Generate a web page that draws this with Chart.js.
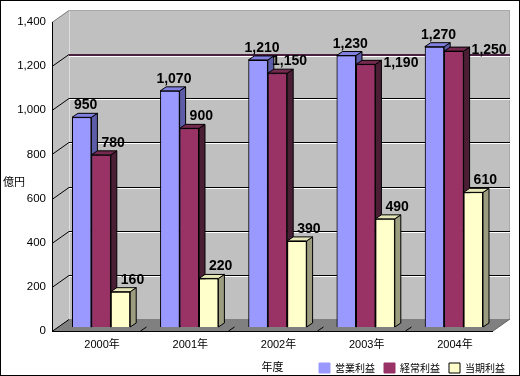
<!DOCTYPE html>
<html>
<head>
<meta charset="utf-8">
<script src="https://cdn.jsdelivr.net/npm/chart.js@4/dist/chart.umd.min.js"></script>
<style>
  html, body { margin: 0; padding: 0; background: #fff; }
</style>
</head>
<body>
<canvas id="chart" width="520" height="376"></canvas>
<script>
const categories = ["2000年", "2001年", "2002年", "2003年", "2004年"]
const seriesNames = ["営業利益", "経常利益", "当期利益"]
const operatingProfit = [950, 1070, 1210, 1230, 1270]
const ordinaryProfit = [780, 900, 1150, 1190, 1250]
const netProfit = [160, 220, 390, 490, 610]
const yTicks = [0, 200, 400, 600, 800, 1000, 1200, 1400]

const FONT = "'Liberation Sans', 'Noto Sans CJK JP', sans-serif"
const JP = "'Noto Sans CJK JP', sans-serif"

// 3d look: wall depth, bar row offset, bar depth
const DX = 17, DY = -12
const BX = 5, BY = -4
const SX = 6, SY = -4
const faces = [
  { side: "#5c5ca8", top: "#8080e0" },
  { side: "#4a1f36", top: "#74294f" },
  { side: "#9c9c80", top: "#e6e6b8" },
]
const labelShift = [4, 12, 12]

function poly(ctx, pts) {
  ctx.beginPath()
  pts.forEach((p, i) => (i ? ctx.lineTo(p[0], p[1]) : ctx.moveTo(p[0], p[1])))
  ctx.closePath()
}
function line(ctx, x1, y1, x2, y2, color, w) {
  ctx.strokeStyle = color
  ctx.lineWidth = w || 1
  ctx.beginPath()
  ctx.moveTo(x1, y1)
  ctx.lineTo(x2, y2)
  ctx.stroke()
}
const hits = (a, b) => a.l < b.r && b.l < a.r && a.t < b.b && b.t < a.b

const box3d = {
  id: "box3d",
  beforeDatasetsDraw(chart) {
    const { ctx, chartArea: a, scales: { x, y } } = chart
    const L = a.left, R = a.right, T = a.top, B = a.bottom
    ctx.save()
    ctx.fillStyle = "#c0c0c0"
    poly(ctx, [[L, T], [L + DX, T + DY], [L + DX, B + DY], [L, B]])
    ctx.fill()
    ctx.fillRect(L + DX, T + DY, R - L, B - T)
    ctx.fillStyle = "#808080"
    poly(ctx, [[L, B], [L + DX, B + DY], [R + DX, B + DY], [R, B]])
    ctx.fill()
    // wall edges
    line(ctx, L + DX + 0.5, T + DY, L + DX + 0.5, B + DY, "#dcdcdc")
    line(ctx, L + DX, T + DY + 0.5, R + DX, T + DY + 0.5, "#a8a8a8")
    line(ctx, R + DX - 0.5, T + DY, R + DX - 0.5, B + DY, "#a8a8a8")
    yTicks.forEach(v => {
      const py = Math.round(y.getPixelForValue(v))
      line(ctx, L, py + 0.5, L + DX, py + DY + 0.5, v === 1400 ? "#808080" : "#000")
      if (v === 0 || v === 1400) return
      const by = py + DY
      if (v === 1200) {
        line(ctx, L + DX, by + 1, R + DX, by + 1, "#4c2040", 2)
        line(ctx, L + DX, by + 2.5, R + DX, by + 2.5, "#fff")
      } else {
        line(ctx, L + DX, by + 0.5, R + DX, by + 0.5, "#000")
        line(ctx, L + DX, by + 1.5, R + DX, by + 1.5, "#fff")
      }
    })
    // floor ticks between categories
    for (let i = 1; i < categories.length; i++) {
      const px = Math.round((x.getPixelForValue(i - 1) + x.getPixelForValue(i)) / 2) + 0.5
      line(ctx, px, B, px + 6, B - 4, "#000")
    }
    line(ctx, R, B, R + DX, B + DY, "#606060")
    line(ctx, L + 0.5, T, L + 0.5, B + 1, "#000")
    line(ctx, L, B + 0.5, R, B + 0.5, "#000")
    ctx.restore()
    ctx.save()
    ctx.translate(BX, BY)
  },
  afterDatasetsDraw(chart) {
    const ctx = chart.ctx
    ctx.lineWidth = 1
    ctx.strokeStyle = "#000"
    chart.data.datasets.forEach((ds, i) => {
      chart.getDatasetMeta(i).data.forEach(bar => {
        bar.draw(ctx)
        const { x, y, base, width } = bar.getProps(["x", "y", "base", "width"], true)
        const l = x - width / 2, r = x + width / 2
        ctx.strokeStyle = "#000"
        ctx.lineWidth = 1
        ctx.fillStyle = faces[i].side
        poly(ctx, [[r, y], [r + SX, y + SY], [r + SX, base + SY], [r, base]])
        ctx.fill(); ctx.stroke()
        ctx.fillStyle = faces[i].top
        poly(ctx, [[l, y], [l + SX, y + SY], [r + SX, y + SY], [r, y]])
        ctx.fill(); ctx.stroke()
      })
    })
    ctx.font = "bold 14px " + FONT
    ctx.fillStyle = "#000"
    ctx.textAlign = "left"
    ctx.textBaseline = "alphabetic"
    categories.forEach((c, j) => {
      const placed = []
      chart.data.datasets.forEach((ds, i) => {
        const bar = chart.getDatasetMeta(i).data[j]
        const txt = ds.data[j].toLocaleString("en-US")
        const w = ctx.measureText(txt).width
        const cx = bar.x + labelShift[i]
        let b = bar.y + SY - 4
        let box = { l: cx - w / 2, r: cx + w / 2, t: b - 10, b }
        if (placed.some(o => hits(o, box))) {
          const left = bar.x + bar.width / 2 + SX + 2
          b = bar.y + 3
          box = { l: left, r: left + w, t: b - 10, b }
        }
        placed.push(box)
        ctx.fillText(txt, box.l, box.b)
      })
    })
    ctx.restore()
  },
  afterDraw(chart) {
    const { ctx, chartArea: a } = chart
    ctx.save()
    ctx.fillStyle = "#000"
    ctx.font = "11px " + JP
    ctx.textBaseline = "middle"
    ctx.textAlign = "left"
    ctx.fillText("億円", 3, 182)
    ctx.textAlign = "center"
    ctx.fillText("年度", (a.left + a.right) / 2, 367)
    ctx.strokeStyle = "#000"
    ctx.lineWidth = 1
    ctx.strokeRect(0.5, 0.5, 519, 375)
    ctx.restore()
  },
}

Chart.defaults.font.family = FONT
Chart.defaults.color = "#000"

new Chart(document.getElementById("chart"), {
  type: "bar",
  data: {
    labels: categories,
    datasets: [
      { label: seriesNames[0], data: operatingProfit, backgroundColor: "#9999ff" },
      { label: seriesNames[1], data: ordinaryProfit, backgroundColor: "#993366" },
      { label: seriesNames[2], data: netProfit, backgroundColor: "#ffffcc" },
    ].map(d => ({ ...d, borderColor: "#000", borderWidth: 1, barPercentage: 1, categoryPercentage: 0.66 })),
  },
  options: {
    responsive: false,
    animation: false,
    layout: { padding: { left: 0, right: 6, top: 22, bottom: 0 } },
    plugins: {
      tooltip: { enabled: false },
      legend: {
        position: "bottom",
        align: "end",
        maxHeight: 22,
        labels: {
          boxWidth: 11,
          boxHeight: 10,
          padding: 9,
          font: { size: 10, family: JP },
          generateLabels(chart) {
            const items = Chart.defaults.plugins.legend.labels.generateLabels(chart)
            items.forEach((it, i) => {
              it.strokeStyle = i === 2 ? "#000" : it.fillStyle
              it.lineWidth = 1
            })
            return items
          },
        },
      },
    },
    scales: {
      x: {
        grid: { display: false, drawTicks: false },
        border: { display: false },
        ticks: { font: { size: 11 }, labelOffset: 6, padding: 7, maxRotation: 0 },
        afterFit(s) { s.height = 23 },
      },
      y: {
        min: 0,
        max: 1400,
        grid: { display: false, drawTicks: false },
        border: { display: false },
        ticks: {
          stepSize: 200,
          padding: 6,
          font: { size: 11.5 },
          callback: v => v.toLocaleString("en-US"),
        },
        afterFit(s) { s.width = 52 },
      },
      yR: {
        position: "right",
        grid: { display: false, drawTicks: false },
        border: { display: false },
        ticks: { display: false },
        afterFit(s) { s.width = 21 },
      },
    },
  },
  plugins: [box3d],
})
</script>
</body>
</html>
